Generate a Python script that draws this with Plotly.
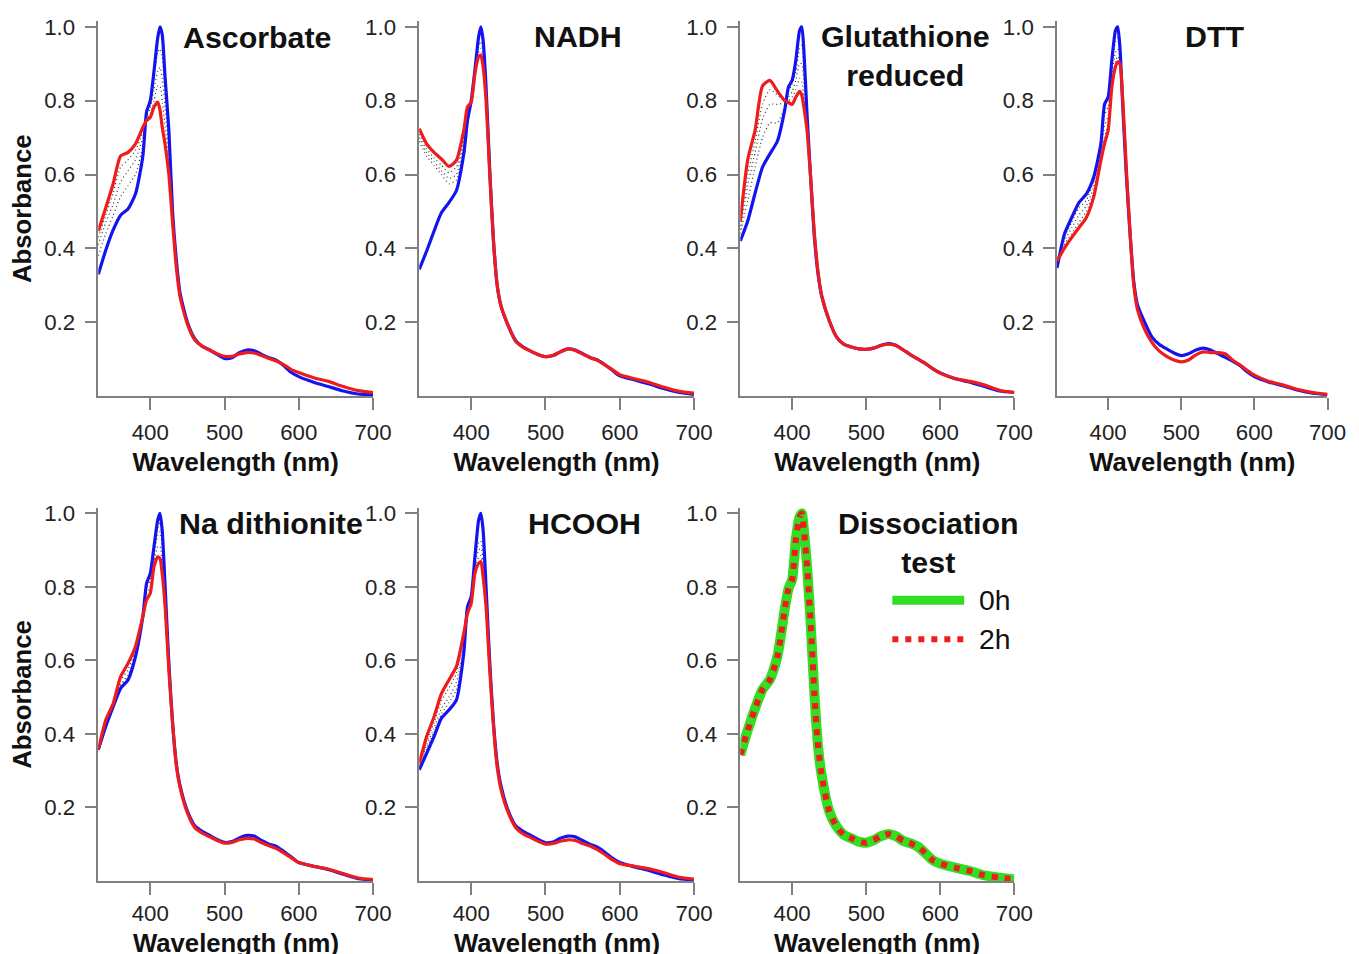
import plotly.graph_objects as go

# Empirical page mapping: picture_px = T + S * figure_px
SX = SY = 0.988
TX, TY = 7.0, 15.6
W, H = 1370, 950
FONT = "Liberation Sans, Arial, sans-serif"
FS = 1 / 0.988  # font compensation

# ---------------- data ----------------
WL = [330, 340, 350, 360, 370, 380, 390, 395, 400, 405, 410, 413, 416, 420, 425, 430, 435, 440,
      450, 460, 470, 480, 490, 500, 510, 520, 530, 540, 550, 560, 570, 580, 590, 600,
      620, 640, 660, 680, 700]
WL_DOT = [330, 340, 350, 360, 370, 380, 390, 395, 400, 405, 410, 413, 416, 420, 425, 430, 435, 440]

X_TICKS = [400, 500, 600, 700]
Y_TICKS = [0.2, 0.4, 0.6, 0.8, 1.0]
Y_TICK_TEXT = ["0.2", "0.4", "0.6", "0.8", "1.0"]
X_TITLE = "Wavelength (nm)"
Y_TITLE = "Absorbance"

TITLES = ["Ascorbate", "NADH", "Glutathione<br>reduced", "DTT", "Na dithionite", "HCOOH",
          "Dissociation<br>test"]

ASC_BLUE = [0.33, 0.395, 0.45, 0.49, 0.507, 0.547, 0.65, 0.77, 0.80, 0.88, 0.97, 1.0, 0.98, 0.86, 0.72, 0.50, 0.37, 0.28,
            0.20, 0.155, 0.135, 0.125, 0.113, 0.102, 0.104, 0.118, 0.125, 0.123, 0.113, 0.104, 0.097, 0.082, 0.064, 0.053,
            0.038, 0.026, 0.014, 0.006, 0.004]
ASC_RED = [0.447, 0.51, 0.575, 0.65, 0.66, 0.683, 0.728, 0.746, 0.755, 0.783, 0.796, 0.775, 0.73, 0.68, 0.60, 0.47, 0.35, 0.27,
           0.195, 0.152, 0.135, 0.125, 0.115, 0.108, 0.108, 0.114, 0.118, 0.117, 0.11, 0.102, 0.095, 0.085, 0.072, 0.064,
           0.05, 0.04, 0.026, 0.015, 0.01]
ASC_D1 = [0.43, 0.49, 0.55, 0.62, 0.64, 0.665, 0.715, 0.745, 0.765, 0.80, 0.84, 0.84, 0.80, 0.73, 0.63, 0.48, 0.355, 0.272]
ASC_D2 = [0.41, 0.47, 0.52, 0.58, 0.61, 0.64, 0.70, 0.755, 0.78, 0.83, 0.88, 0.89, 0.86, 0.78, 0.66, 0.49, 0.36, 0.275]
ASC_D3 = [0.38, 0.44, 0.49, 0.54, 0.57, 0.60, 0.68, 0.765, 0.79, 0.86, 0.93, 0.94, 0.92, 0.82, 0.69, 0.495, 0.365, 0.278]

NADH_BLUE = [0.343, 0.393, 0.447, 0.497, 0.524, 0.556, 0.656, 0.746, 0.80, 0.883, 0.973, 1.0, 0.964, 0.837, 0.61, 0.42, 0.30, 0.245,
             0.19, 0.15, 0.133, 0.122, 0.113, 0.107, 0.11, 0.12, 0.128, 0.125, 0.115, 0.105, 0.098, 0.085, 0.07, 0.055,
             0.044, 0.033, 0.02, 0.01, 0.005]
NADH_RED = [0.724, 0.683, 0.66, 0.642, 0.622, 0.638, 0.72, 0.783, 0.796, 0.873, 0.919, 0.923, 0.892, 0.80, 0.60, 0.42, 0.30, 0.245,
            0.19, 0.148, 0.132, 0.122, 0.113, 0.107, 0.11, 0.12, 0.128, 0.124, 0.114, 0.104, 0.097, 0.085, 0.072, 0.058,
            0.047, 0.037, 0.024, 0.013, 0.008]
NADH_D1 = [0.71, 0.67, 0.645, 0.625, 0.605, 0.62, 0.70, 0.775, 0.798, 0.876, 0.93, 0.94, 0.91, 0.81, 0.605, 0.42, 0.30, 0.245]
NADH_D2 = [0.70, 0.66, 0.635, 0.61, 0.59, 0.60, 0.69, 0.765, 0.799, 0.879, 0.945, 0.96, 0.93, 0.82, 0.607, 0.42, 0.30, 0.245]
NADH_D3 = [0.69, 0.65, 0.625, 0.60, 0.575, 0.585, 0.675, 0.755, 0.80, 0.881, 0.96, 0.98, 0.95, 0.83, 0.608, 0.42, 0.30, 0.245]

GSH_BLUE = [0.42, 0.474, 0.55, 0.62, 0.656, 0.69, 0.775, 0.837, 0.855, 0.91, 0.99, 1.0, 0.928, 0.765, 0.59, 0.43, 0.33, 0.27,
            0.205, 0.16, 0.14, 0.133, 0.128, 0.127, 0.13, 0.138, 0.142, 0.138, 0.125, 0.112, 0.10, 0.088, 0.074, 0.063,
            0.047, 0.038, 0.026, 0.014, 0.01]
GSH_RED = [0.474, 0.64, 0.72, 0.84, 0.855, 0.826, 0.80, 0.795, 0.79, 0.81, 0.825, 0.815, 0.78, 0.72, 0.59, 0.44, 0.335, 0.27,
           0.205, 0.16, 0.14, 0.133, 0.128, 0.127, 0.13, 0.137, 0.141, 0.137, 0.125, 0.112, 0.10, 0.088, 0.074, 0.062,
           0.048, 0.04, 0.03, 0.016, 0.01]
GSH_D1 = [0.46, 0.60, 0.69, 0.79, 0.83, 0.815, 0.80, 0.80, 0.81, 0.83, 0.86, 0.85, 0.80, 0.73, 0.59, 0.435, 0.333, 0.27]
GSH_D2 = [0.45, 0.57, 0.66, 0.75, 0.79, 0.79, 0.795, 0.81, 0.825, 0.855, 0.90, 0.90, 0.84, 0.74, 0.59, 0.435, 0.333, 0.27]
GSH_D3 = [0.44, 0.53, 0.62, 0.70, 0.74, 0.74, 0.785, 0.825, 0.845, 0.88, 0.94, 0.95, 0.88, 0.75, 0.59, 0.435, 0.333, 0.27]

DTT_BLUE = [0.347, 0.438, 0.483, 0.524, 0.547, 0.592, 0.683, 0.79, 0.81, 0.91, 0.99, 1.0, 0.946, 0.783, 0.592, 0.438, 0.31, 0.248,
            0.20, 0.16, 0.14, 0.128, 0.117, 0.11, 0.115, 0.125, 0.13, 0.125, 0.115, 0.105, 0.095, 0.083, 0.066, 0.053,
            0.038, 0.028, 0.016, 0.008, 0.004]
DTT_RED = [0.366, 0.40, 0.429, 0.456, 0.483, 0.538, 0.638, 0.683, 0.72, 0.837, 0.892, 0.905, 0.90, 0.80, 0.61, 0.44, 0.30, 0.235,
           0.18, 0.145, 0.122, 0.108, 0.098, 0.093, 0.098, 0.112, 0.12, 0.118, 0.118, 0.115, 0.098, 0.085, 0.07, 0.057,
           0.04, 0.03, 0.018, 0.01, 0.005]
DTT_D1 = [0.36, 0.41, 0.44, 0.47, 0.50, 0.55, 0.65, 0.70, 0.74, 0.85, 0.905, 0.92, 0.91, 0.795, 0.605, 0.44, 0.305, 0.24]
DTT_D2 = [0.355, 0.42, 0.455, 0.49, 0.515, 0.565, 0.66, 0.73, 0.76, 0.87, 0.93, 0.94, 0.92, 0.79, 0.60, 0.439, 0.307, 0.245]
DTT_D3 = [0.35, 0.43, 0.47, 0.51, 0.53, 0.58, 0.67, 0.76, 0.785, 0.89, 0.96, 0.97, 0.93, 0.787, 0.595, 0.438, 0.308, 0.246]

NA_BLUE = [0.357, 0.42, 0.474, 0.524, 0.547, 0.61, 0.72, 0.81, 0.837, 0.91, 0.982, 1.0, 0.955, 0.80, 0.592, 0.43, 0.32, 0.26,
           0.19, 0.15, 0.135, 0.124, 0.113, 0.105, 0.107, 0.117, 0.124, 0.122, 0.11, 0.10, 0.094, 0.08, 0.065, 0.05,
           0.04, 0.031, 0.018, 0.006, 0.003]
NA_RED = [0.357, 0.438, 0.483, 0.556, 0.592, 0.638, 0.72, 0.765, 0.783, 0.855, 0.882, 0.878, 0.837, 0.746, 0.574, 0.43, 0.315, 0.255,
          0.185, 0.145, 0.13, 0.12, 0.11, 0.103, 0.105, 0.112, 0.116, 0.114, 0.104, 0.096, 0.088, 0.076, 0.063, 0.05,
          0.04, 0.032, 0.02, 0.008, 0.004]
NA_D1 = [0.357, 0.43, 0.48, 0.545, 0.575, 0.63, 0.72, 0.78, 0.80, 0.87, 0.91, 0.91, 0.87, 0.76, 0.58, 0.43, 0.317, 0.257]
NA_D2 = [0.357, 0.425, 0.478, 0.535, 0.56, 0.62, 0.72, 0.795, 0.82, 0.89, 0.94, 0.95, 0.91, 0.78, 0.585, 0.43, 0.318, 0.258]
NA_D3 = [0.357, 0.422, 0.476, 0.53, 0.553, 0.615, 0.72, 0.80, 0.83, 0.90, 0.96, 0.975, 0.935, 0.79, 0.59, 0.43, 0.319, 0.259]

HC_BLUE = [0.302, 0.347, 0.393, 0.443, 0.465, 0.492, 0.62, 0.746, 0.774, 0.882, 0.982, 1.0, 0.955, 0.80, 0.592, 0.43, 0.32, 0.26,
           0.19, 0.15, 0.135, 0.124, 0.113, 0.104, 0.106, 0.116, 0.122, 0.12, 0.11, 0.10, 0.092, 0.078, 0.062, 0.05,
           0.038, 0.028, 0.016, 0.006, 0.003]
HC_RED = [0.32, 0.393, 0.447, 0.51, 0.547, 0.583, 0.674, 0.728, 0.755, 0.837, 0.864, 0.869, 0.828, 0.746, 0.574, 0.42, 0.31, 0.25,
          0.185, 0.145, 0.128, 0.118, 0.108, 0.10, 0.102, 0.108, 0.112, 0.11, 0.102, 0.095, 0.085, 0.072, 0.058, 0.047,
          0.04, 0.033, 0.022, 0.01, 0.005]
HC_D1 = [0.315, 0.38, 0.43, 0.49, 0.525, 0.565, 0.66, 0.73, 0.76, 0.85, 0.88, 0.885, 0.85, 0.76, 0.58, 0.425, 0.313, 0.253]
HC_D2 = [0.31, 0.37, 0.415, 0.47, 0.50, 0.54, 0.645, 0.735, 0.765, 0.86, 0.90, 0.905, 0.87, 0.77, 0.585, 0.427, 0.315, 0.255]
HC_D3 = [0.305, 0.36, 0.405, 0.455, 0.485, 0.52, 0.635, 0.74, 0.77, 0.87, 0.92, 0.925, 0.89, 0.78, 0.588, 0.428, 0.317, 0.257]

DISS_0H = [0.343, 0.41, 0.47, 0.521, 0.548, 0.61, 0.74, 0.795, 0.82, 0.93, 0.99, 1.0, 0.95, 0.86, 0.70, 0.51, 0.365, 0.285,
           0.19, 0.148, 0.125, 0.116, 0.107, 0.104, 0.111, 0.122, 0.128, 0.122, 0.109, 0.102, 0.093, 0.075, 0.056, 0.047,
           0.036, 0.027, 0.015, 0.009, 0.004]
DISS_2H = [0.343, 0.41, 0.47, 0.521, 0.548, 0.61, 0.74, 0.795, 0.82, 0.93, 0.99, 1.0, 0.95, 0.86, 0.70, 0.51, 0.365, 0.285,
           0.19, 0.148, 0.125, 0.116, 0.107, 0.104, 0.111, 0.122, 0.128, 0.122, 0.109, 0.102, 0.093, 0.075, 0.056, 0.047,
           0.036, 0.027, 0.015, 0.009, 0.004]

PANELS = [
    dict(blue=ASC_BLUE, red=ASC_RED, dots=[ASC_D1, ASC_D2, ASC_D3]),
    dict(blue=NADH_BLUE, red=NADH_RED, dots=[NADH_D1, NADH_D2, NADH_D3]),
    dict(blue=GSH_BLUE, red=GSH_RED, dots=[GSH_D1, GSH_D2, GSH_D3]),
    dict(blue=DTT_BLUE, red=DTT_RED, dots=[DTT_D1, DTT_D2, DTT_D3]),
    dict(blue=NA_BLUE, red=NA_RED, dots=[NA_D1, NA_D2, NA_D3]),
    dict(blue=HC_BLUE, red=HC_RED, dots=[HC_D1, HC_D2, HC_D3]),
]

# ---------------- layout geometry (target picture pixels) ----------------
COLS = [(97.5, 372.7), (419.0, 694.3), (740.7, 1015.3), (1058.0, 1329.0)]
ROWS = [(27.3, 395.0), (511.7, 877.5)]   # (y of 1.0, y of 0)
ROW2_XTITLE_Y = 939
XTICK_STANDOFF = [3, 0]
YMAX = 1.015
POS = [(0, 0), (1, 0), (2, 0), (3, 0), (0, 1), (1, 1), (2, 1)]
TITLE_POS = [(256, 38), (578, 37), (906, 56), (1216, 37), (270, 522), (585, 522), (929, 541)]


def fx(px):
    return (px - TX) / SX / W


def fy(py):
    return 1 - (py - TY) / SY / H


BLUE = "#1414f0"
RED = "#ee1c1c"
GREEN = "#33dd22"
AXC = "#808080"
TITLE_FONT = dict(size=25.4 * FS, family=FONT, weight="bold", color="#111111")

fig = go.Figure()
line_kw = dict(shape="spline", smoothing=0.6)


def axn(i):
    return "" if i == 0 else str(i + 1)


for i, p in enumerate(PANELS):
    xa, ya = "x" + axn(i), "y" + axn(i)
    for d in p["dots"]:
        fig.add_trace(go.Scatter(x=WL_DOT, y=d, xaxis=xa, yaxis=ya, mode="lines",
                                 line=dict(color="#333333", width=1.2, dash="1px,3px", **line_kw),
                                 showlegend=False, hoverinfo="skip"))
    fig.add_trace(go.Scatter(x=WL, y=p["blue"], xaxis=xa, yaxis=ya, mode="lines",
                             line=dict(color=BLUE, width=3.2, **line_kw), showlegend=False))
    fig.add_trace(go.Scatter(x=WL, y=p["red"], xaxis=xa, yaxis=ya, mode="lines",
                             line=dict(color=RED, width=3.2, **line_kw), showlegend=False))

# dissociation test
fig.add_trace(go.Scatter(x=WL, y=DISS_0H, xaxis="x7", yaxis="y7", mode="lines", name="0h",
                         line=dict(color=GREEN, width=10, **line_kw), showlegend=False))
fig.add_trace(go.Scatter(x=WL, y=DISS_2H, xaxis="x7", yaxis="y7", mode="lines", name="2h",
                         line=dict(color=RED, width=6, dash="6px,7px", **line_kw), showlegend=False))

layout = dict(width=W, height=H, autosize=False, margin=dict(l=0, r=0, t=0, b=0),
              paper_bgcolor="white", plot_bgcolor="white",
              font=dict(family=FONT, color="#222222"))

annotations = []
for i, (c, r) in enumerate(POS):
    x0, x1 = COLS[c]
    ytop1, ybot = ROWS[r]
    ppu = ybot - ytop1
    ytop = ytop1 - (YMAX - 1.0) * ppu
    n = axn(i)
    xd = dict(
        domain=[fx(x0), fx(x1)], range=[330, 700], anchor="y" + n,
        tickvals=X_TICKS, ticks="outside", ticklen=12, tickwidth=1.5, tickcolor=AXC,
        showline=True, linecolor=AXC, linewidth=1.5, showgrid=False, zeroline=False,
        tickfont=dict(size=22 * FS, family=FONT, color="#222222"), ticklabelstandoff=XTICK_STANDOFF[r])
    if r == 0:
        xd["title"] = dict(text=X_TITLE, font=TITLE_FONT, standoff=9)
    else:
        # bottom row: title placed just above the page edge so it stays readable
        annotations.append(dict(text=X_TITLE, x=fx((x0 + x1) / 2), y=fy(ROW2_XTITLE_Y),
                                xref="paper", yref="paper", xanchor="center", yanchor="middle",
                                showarrow=False, font=TITLE_FONT))
    layout["xaxis" + n] = xd
    yd = dict(
        domain=[fy(ybot), fy(ytop)], range=[0, YMAX], anchor="x" + n,
        tickvals=Y_TICKS, ticktext=Y_TICK_TEXT, ticks="outside", ticklen=12, tickwidth=1.5, tickcolor=AXC,
        showline=True, linecolor=AXC, linewidth=1.5, showgrid=False, zeroline=False,
        tickfont=dict(size=22 * FS, family=FONT, color="#222222"), ticklabelstandoff=5)
    if c == 0:
        yd["title"] = dict(text=Y_TITLE, font=TITLE_FONT, standoff=7)
    layout["yaxis" + n] = yd

for t, (px, py) in zip(TITLES, TITLE_POS):
    annotations.append(dict(text=t, x=fx(px), y=fy(py), xref="paper", yref="paper",
                            xanchor="center", yanchor="middle", showarrow=False,
                            font=dict(size=30 * FS, family=FONT, weight="bold", color="#111111")))

# manual legend for dissociation panel
shapes = [
    dict(type="line", xref="paper", yref="paper", x0=fx(893), x1=fx(965), y0=fy(598), y1=fy(598),
         line=dict(color=GREEN, width=9)),
    dict(type="line", xref="paper", yref="paper", x0=fx(893), x1=fx(965), y0=fy(637), y1=fy(637),
         line=dict(color=RED, width=6, dash="6px,7px")),
]
for lab, py in [("0h", 598), ("2h", 637)]:
    annotations.append(dict(text=lab, x=fx(978), y=fy(py), xref="paper", yref="paper",
                            xanchor="left", yanchor="middle", showarrow=False,
                            font=dict(size=28 * FS, family=FONT, color="#111111")))

layout["annotations"] = annotations
layout["shapes"] = shapes
fig.update_layout(**layout)
fig.write_html("out.html")
